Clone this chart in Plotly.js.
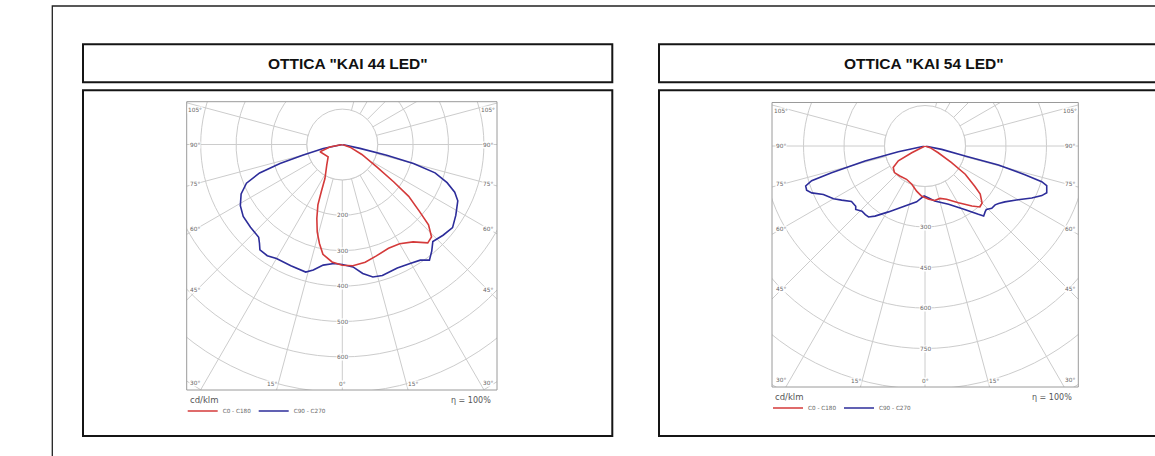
<!DOCTYPE html>
<html><head><meta charset="utf-8">
<script src="https://cdn.plot.ly/plotly-3.0.1.min.js"></script>
<style>
html,body{margin:0;padding:0;background:#fff;overflow:hidden}
#wrap{width:1155px;height:456px;overflow:hidden;position:relative}
#chart{width:1300px;height:456px}
</style>
</head><body><div id="wrap"><div id="chart"></div></div>
<script>
// ---------------- data ----------------
const panelTitles = ['OTTICA "KAI 44 LED"', 'OTTICA "KAI 54 LED"'];
const seriesNames = ['C0 - C180', 'C90 - C270'];
const unitLabel = 'cd/klm';
const efficiencyLabel = '\u03b7 = 100%';

// gamma angle (deg): negative = C180 / C270 half, positive = C0 / C90 half
const kai44_C0C180_gamma = [-90, -79, -72, -49, -37, -27, -24, -22, -19, -16, -13, -10, -5, 0, 5, 11, 17, 24, 30, 36, 41, 44, 47, 49, 52, 54, 57, 63, 71, 90];
const kai44_C0C180_cd    = [0, 36, 66, 53, 73, 108, 146, 184, 221, 257, 287, 315, 333, 341, 344, 339, 329, 321, 324, 340, 368, 363, 333, 290, 238, 179, 116, 62, 23, 0];

const kai44_C90C270_gamma = [-90, -78, -75, -73, -71, -68, -64, -59, -54, -48, -42, -40, -38, -34, -30, -23, -16, -13, -9, -4, 0, 5, 9, 13, 17, 24, 30, 34, 37, 40, 43, 48, 53, 58, 64, 67, 70, 73, 75, 76.5, 77.5, 90];
const kai44_C90C270_cd    = [0, 55, 114, 184, 247, 292, 318, 336, 346, 349, 353, 364, 378, 379, 372, 372, 375, 364, 345, 337, 339, 347, 369, 384, 387, 382, 387, 394, 409, 393, 375, 383, 390, 378, 363, 345, 315, 274, 208, 129, 51, 0];

const kai54_C0C180_gamma = [-90, -63, -61, -56, -49, -40, -29, -19, -10.5, -4, 4, 10, 16, 22, 30.5, 38, 42, 45, 49, 51, 55, 58, 63, 72, 90];
const kai54_C0C180_cd    = [0, 55, 113, 142, 150, 145, 141, 150, 170, 186, 198, 205, 202, 213, 244, 282, 304, 299, 271, 237, 182, 116, 55, 20, 0];

const kai54_C90C270_gamma = [-90, -78, -76, -74, -73, -71.5, -69.5, -67.5, -64.5, -60, -57, -53, -49, -47.5, -44, -41, -38.5, -35.5, -29, -18.5, -8.5, -3.5, -1, 3.5, 10, 22, 32, 38, 40, 42.5, 44, 47, 50, 52, 55, 60, 64, 67, 69, 72, 73, 74, 75.5, 76, 78.5, 90];
const kai54_C90C270_cd    = [0, 101, 229, 360, 439, 466, 468, 454, 417, 391, 368, 341, 340, 348, 336, 337, 336, 319, 279, 234, 209, 192, 185, 192, 207, 233, 277, 321, 338, 330, 327, 338, 339, 346, 361, 398, 440, 470, 483, 474, 452, 385, 281, 153, 63, 0];

const kai44_rings = [100, 200, 300, 400, 500, 600, 700, 800];
const kai44_ringLabels = [200, 300, 400, 500, 600];
const kai54_rings = [150, 300, 450, 600, 750, 900, 1050];
const kai54_ringLabels = [300, 450, 600, 750];

const spokeAngles = [-180, -165, -150, -135, -120, -105, -90, -75, -60, -45, -30, -15, 0, 15, 30, 45, 60, 75, 90, 105, 120, 135, 150, 165];
const sideAngleLabels = [105, 90, 75, 60, 45];
const cornerAngleLabel = 30;
const bottomAngleLabels = [15, 0, 15];

// ---------------- layout geometry ----------------
const W = 1300, H = 456;
const FONT_UI = 'DejaVu Sans, Verdana, sans-serif';
const FONT_TITLE = 'Liberation Sans, Arial, sans-serif';
const GRID = '#cccccc';
const RED = '#d43a3a', BLUE = '#2d2d9a';
const LABEL = '#666666';
const SUP = Math.sin(17 * Math.PI / 180), SCOS = Math.cos(17 * Math.PI / 180);

const panels = [
  {title: panelTitles[0], red: [kai44_C0C180_gamma, kai44_C0C180_cd], blue: [kai44_C90C270_gamma, kai44_C90C270_cd],
   rings: kai44_rings, ringLabels: kai44_ringLabels,
   cx: 342.3, cy: 144.5, s: 0.354, rmax: 822, r2max: 405,
   frame: [186.7, 101.7, 497, 390], box: [83, 612.3], mask: [40, 640], legends: ['legend', 'legend2']},
  {title: panelTitles[1], red: [kai54_C0C180_gamma, kai54_C0C180_cd], blue: [kai54_C90C270_gamma, kai54_C90C270_cd],
   rings: kai54_rings, ringLabels: kai54_ringLabels,
   cx: 925, cy: 146, s: 0.27, rmax: 1060, r2max: 535,
   frame: [772, 102.5, 1078.3, 387], box: [659, 1188.3], mask: [640, 1300], legends: ['legend3', 'legend4']}
];

function dom(x0, x1, y0, y1) { return {x: [x0 / W, x1 / W], y: [1 - y1 / H, 1 - y0 / H]}; }
function px(x) { return x / W; }
function py(y) { return 1 - y / H; }

const data = [], shapes = [], annotations = [];
const layout = {
  width: W, height: H, margin: {l: 0, r: 0, t: 0, b: 0},
  paper_bgcolor: '#fff', plot_bgcolor: '#fff', showlegend: true,
  font: {family: FONT_UI, color: LABEL}
};

function axisCommon() {
  return {showticklabels: false, ticks: '', showline: false, gridcolor: GRID, gridwidth: 1};
}
function smallLabel(x, y, text) {
  return {xref: 'paper', yref: 'paper', x: px(x), y: py(y), text: text, showarrow: false,
    xanchor: 'center', yanchor: 'middle', bgcolor: '#fff', borderpad: 0, font: {family: FONT_UI, size: 5.8, color: LABEL}};
}
function legendAt(lineStartX, topY) {
  return {x: px(lineStartX - 5), y: py(topY), xanchor: 'left', yanchor: 'top', orientation: 'h',
    bgcolor: 'rgba(0,0,0,0)', borderwidth: 0, itemwidth: 30, itemclick: false, itemdoubleclick: false,
    font: {family: FONT_UI, size: 5.7, color: LABEL}};
}

panels.forEach((p, i) => {
  const lowId = 'polar' + (i === 0 ? '' : (2 * i + 1));
  const upId = 'polar' + (2 * i + 2);
  const R = p.rmax * p.s, R2 = p.r2max * p.s;
  const inner = p.rings[0];

  layout[lowId] = {
    domain: dom(p.cx - R, p.cx + R, p.cy - SUP * R, p.cy + R),
    sector: [-197, 17], hole: 0, bgcolor: 'rgba(0,0,0,0)',
    radialaxis: Object.assign({range: [0, p.rmax], tickvals: p.rings}, axisCommon()),
    angularaxis: Object.assign({rotation: -90, direction: 'counterclockwise', tickvals: spokeAngles}, axisCommon())
  };
  layout[upId] = {
    domain: dom(p.cx - SCOS * R2, p.cx + SCOS * R2, p.cy - R2, p.cy),
    sector: [17, 163], hole: inner / p.r2max, bgcolor: 'rgba(0,0,0,0)',
    radialaxis: Object.assign({range: [inner, p.r2max], tickvals: p.rings.filter(v => v > inner && v < p.r2max)}, axisCommon()),
    angularaxis: Object.assign({rotation: -90, direction: 'counterclockwise', tickvals: spokeAngles}, axisCommon())
  };

  // empty inner circle (covers spokes inside the first ring)
  data.push({type: 'scatterpolar', subplot: lowId, r: [0], theta: [0], mode: 'markers', cliponaxis: false,
    marker: {size: 2 * inner * p.s, color: '#fff', line: {color: GRID, width: 1}}, showlegend: false, hoverinfo: 'skip'});
  data.push({type: 'scatterpolar', subplot: lowId, name: seriesNames[1], theta: p.blue[0], r: p.blue[1],
    mode: 'lines', line: {color: BLUE, width: 1.6}, legend: p.legends[1], hoverinfo: 'skip'});
  data.push({type: 'scatterpolar', subplot: lowId, name: seriesNames[0], theta: p.red[0], r: p.red[1],
    mode: 'lines', line: {color: RED, width: 1.6}, legend: p.legends[0], hoverinfo: 'skip'});
  data.push({type: 'scatterpolar', subplot: upId, r: [p.r2max * 0.9], theta: [180], mode: 'markers',
    marker: {size: 1, opacity: 0}, showlegend: false, hoverinfo: 'skip'});

  const F = p.frame;
  // white masks outside the diagram frame
  [[p.mask[0], 0, F[0], H], [F[2], 0, p.mask[1], H], [F[0], 0, F[2], F[1]], [F[0], F[3], F[2], H]].forEach(m => {
    shapes.push({type: 'rect', xref: 'paper', yref: 'paper', x0: px(m[0]), x1: px(m[2]), y0: py(m[3]), y1: py(m[1]),
      fillcolor: '#fff', line: {width: 0}, layer: 'above'});
  });

  // legends (one entry each, placed side by side)
  layout[p.legends[0]] = legendAt(F[0] + 1, F[3] + 6.5);
  layout[p.legends[1]] = legendAt(F[0] + 72, F[3] + 6.5);

  // radial labels
  p.ringLabels.forEach(v => annotations.push(smallLabel(p.cx, p.cy + v * p.s, String(v))));
  // angle labels on the sides
  const half = p.cx - F[0];
  sideAngleLabels.forEach(a => {
    let y = p.cy + (a === 90 ? 0 : (half - 10) / Math.tan(a * Math.PI / 180));
    y = Math.max(F[1] + 8.3, Math.min(F[3] - 8, y));
    [F[0] + 8.5, F[2] - 8.5].forEach(x => annotations.push(smallLabel(x, y, a + '\u00b0')));
  });
  [F[0] + 8.5, F[2] - 8.5].forEach(x => annotations.push(smallLabel(x, F[3] - 7, cornerAngleLabel + '\u00b0')));
  const dBottom = (F[3] - p.cy + 18) * Math.tan(15 * Math.PI / 180);
  bottomAngleLabels.forEach((a, k) => annotations.push(smallLabel(p.cx + (k - 1) * dBottom, F[3] - 6.5, a + '\u00b0')));
  // unit and efficiency
  annotations.push({xref: 'paper', yref: 'paper', x: px(F[0] + 1), y: py(F[3] + 10), text: unitLabel, showarrow: false,
    xanchor: 'left', yanchor: 'middle', font: {family: FONT_UI, size: 8.5, color: '#555'}});
  annotations.push({xref: 'paper', yref: 'paper', x: px(F[2] - 4.5), y: py(F[3] + 10), text: efficiencyLabel, showarrow: false,
    xanchor: 'right', yanchor: 'middle', font: {family: FONT_UI, size: 8, color: '#555'}});
  // panel title
  annotations.push({xref: 'paper', yref: 'paper', x: px((p.box[0] + p.box[1]) / 2), y: py(63.5), text: '<b>' + p.title + '</b>',
    showarrow: false, xanchor: 'center', yanchor: 'middle', font: {family: FONT_TITLE, size: 15.5, color: '#111'}});
});

// frames and boxes (drawn after masks)
panels.forEach(p => {
  const F = p.frame;
  shapes.push({type: 'rect', xref: 'paper', yref: 'paper', x0: px(F[0]), x1: px(F[2]), y0: py(F[3]), y1: py(F[1]),
    line: {color: '#9a9a9a', width: 1}, layer: 'above'});
  shapes.push({type: 'rect', xref: 'paper', yref: 'paper', x0: px(p.box[0]), x1: px(p.box[1]), y0: py(82.3), y1: py(44.3),
    line: {color: '#151515', width: 2}, layer: 'above'});
  shapes.push({type: 'rect', xref: 'paper', yref: 'paper', x0: px(p.box[0]), x1: px(p.box[1]), y0: py(436), y1: py(90.3),
    line: {color: '#151515', width: 2}, layer: 'above'});
});
shapes.push({type: 'rect', xref: 'paper', yref: 'paper', x0: px(52.3), x1: px(1290), y0: py(480), y1: py(6),
  line: {color: '#222', width: 1.3}, layer: 'above'});

layout.shapes = shapes;
layout.annotations = annotations;

Plotly.newPlot('chart', data, layout, {staticPlot: true, displayModeBar: false});
</script>
</body></html>
